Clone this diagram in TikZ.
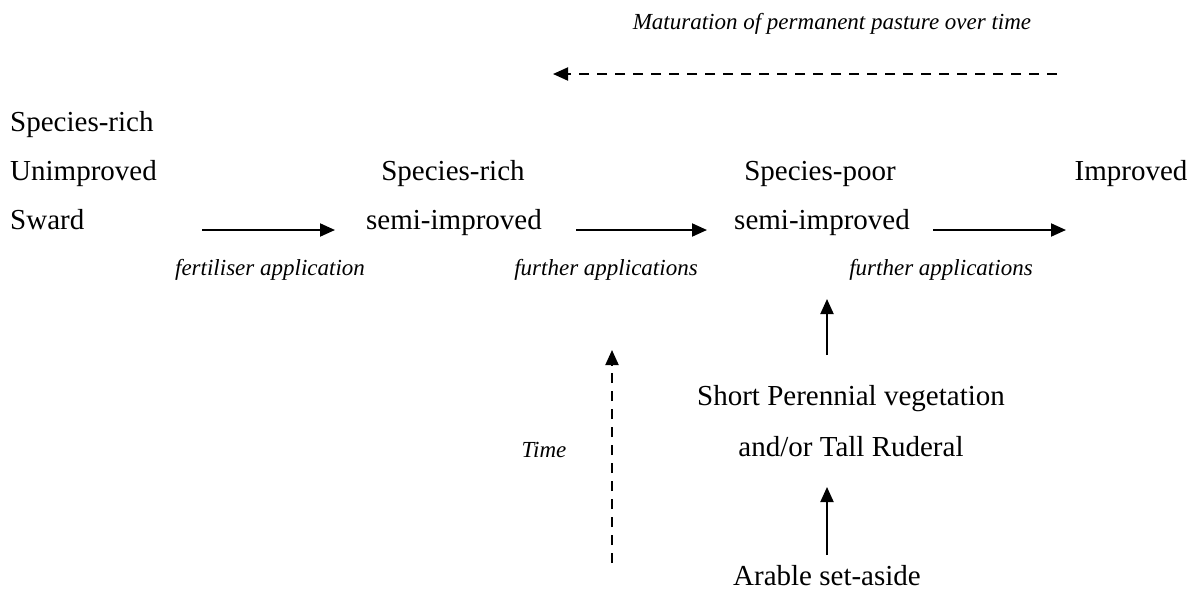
\documentclass[tikz,border=0pt]{standalone}
\usepackage{fontspec}
\setmainfont{Liberation Serif}
\usetikzlibrary{arrows.meta}
\tikzset{
  lbl/.style={font=\fontsize{29}{33}\selectfont, inner sep=0pt, anchor=base},
  ilbl/.style={font=\fontsize{23}{27}\selectfont\itshape, inner sep=0pt, anchor=base},
  arr/.style={line width=2pt, -{Triangle[length=15pt,width=13pt]}},
  darr/.style={arr, dash pattern=on 10pt off 8pt},
}
\begin{document}
\begin{tikzpicture}[x=1pt,y=-1pt]
\useasboundingbox (0,0) rectangle (1200,590);
\node[ilbl] (mat) at (832,29) {Maturation of permanent pasture over time};
\coordinate (mr) at (1057,74);
\coordinate (ml) at (553,74);
\draw[darr] (mr) -- (ml);

\node[lbl, anchor=base west] (a1) at (10,131) {Species-rich};
\node[lbl, anchor=base west] (a2) at (10,180) {Unimproved};
\node[lbl, anchor=base west] (a3) at (10,229) {Sward};

\node[lbl] (b1) at (453,180) {Species-rich};
\node[lbl] (b2) at (454,229) {semi-improved};

\node[lbl] (c1) at (820,180) {Species-poor};
\node[lbl] (c2) at (822,229) {semi-improved};

\node[lbl] (d1) at (1131,180) {Improved};

\coordinate (s1) at (202,230); \coordinate (e1) at (335,230);
\coordinate (s2) at (576,230); \coordinate (e2) at (707,230);
\coordinate (s3) at (933,230); \coordinate (e3) at (1066,230);
\draw[arr] (s1) -- (e1);
\draw[arr] (s2) -- (e2);
\draw[arr] (s3) -- (e3);

\node[ilbl] (f1) at (270,275) {fertiliser application};
\node[ilbl] (f2) at (606,275) {further applications};
\node[ilbl] (f3) at (941,275) {further applications};

\coordinate (tb) at (612,563); \coordinate (tt) at (612,350);
\draw[darr] (tb) -- (tt);
\node[ilbl] (time) at (544,457) {Time};

\node[lbl] (sp) at (851,405) {Short Perennial vegetation};
\node[lbl] (tr) at (851,456) {and/or Tall Ruderal};
\node[lbl] (ar) at (827,585) {Arable set-aside};

\coordinate (u1b) at (827,355); \coordinate (u1t) at (827,299);
\coordinate (u2b) at (827,555); \coordinate (u2t) at (827,487);
\draw[arr] (u1b) -- (u1t);
\draw[arr] (u2b) -- (u2t);
\end{tikzpicture}
\end{document}
